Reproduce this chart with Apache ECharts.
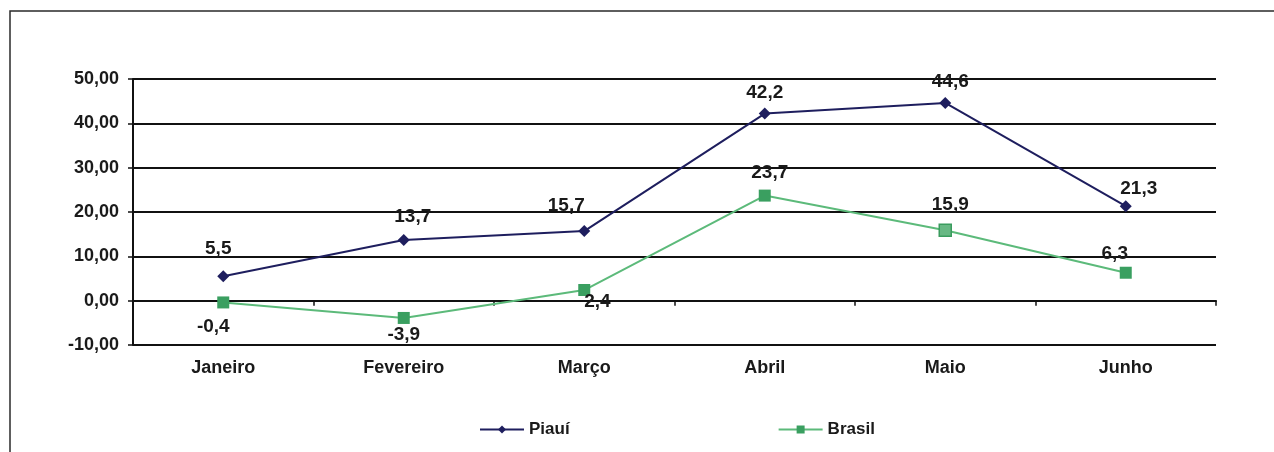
<!DOCTYPE html>
<html>
<head>
<meta charset="utf-8">
<script src="https://cdn.jsdelivr.net/npm/echarts@6/dist/echarts.min.js"></script>
<style>
  html, body { margin: 0; padding: 0; background: #fff; }
  #chart { width: 1274px; height: 452px; }
</style>
</head>
<body>
<div id="chart"></div>
<script>
// Monthly variation (%) – Piauí vs Brasil
const months = ['Janeiro', 'Fevereiro', 'Março', 'Abril', 'Maio', 'Junho'];
const piaui = [5.5, 13.7, 15.7, 42.2, 44.6, 21.3];
const brasil = [-0.4, -3.9, 2.4, 23.7, 15.9, 6.3];
const yTicks = { min: -10, max: 50, step: 10 };

const FONT = '"Liberation Sans", Arial, sans-serif';
const TEXT = '#1a1a1a';
const comma = (v, d) => v.toFixed(d).replace('.', ',');

// label placement per point
const piauiLabel = [
  { position: 'top', offset: [-5, -2] },
  { position: 'top', offset: [9, 2] },
  { position: 'top', offset: [-18, 0] },
  { position: 'top', offset: [0, 5] },
  { position: 'top', offset: [5, 4] },
  { position: 'top', offset: [13, 8] }
];
const brasilLabel = [
  { position: 'bottom', offset: [-10, -1] },
  { position: 'bottom', offset: [0, -9] },
  { position: 'right', offset: [-16, 12] },
  { position: 'top', offset: [5, 3] },
  { position: 'top', offset: [5, 1] },
  { position: 'top', offset: [-11, 7] }
];

const labelBase = {
  show: true,
  fontFamily: FONT,
  fontWeight: 'bold',
  fontSize: 19,
  color: TEXT,
  distance: 10
};

const chart = echarts.init(document.getElementById('chart'), null, { renderer: 'canvas' });

chart.setOption({
  backgroundColor: '#fff',
  animation: false,
  graphic: [{
    type: 'rect',
    shape: { x: 10, y: 11, width: 1400, height: 600 },
    style: { fill: 'none', stroke: '#2a2a2a', lineWidth: 1.5 },
    silent: true,
    z: -1
  }],
  grid: { left: 133, right: 58, top: 79, bottom: 107 },
  legend: {
    left: 474,
    top: 416,
    itemWidth: 44,
    itemHeight: 10,
    itemGap: 208,
    textStyle: { fontFamily: FONT, fontWeight: 'bold', fontSize: 17, color: TEXT },
    data: ['Piauí', 'Brasil']
  },
  xAxis: {
    type: 'category',
    data: months,
    boundaryGap: true,
    axisLine: { onZero: true, lineStyle: { color: '#111', width: 2 } },
    axisTick: { show: true, length: 5, alignWithLabel: false, lineStyle: { color: '#111', width: 1.5 } },
    axisLabel: { margin: 14, fontFamily: FONT, fontWeight: 'bold', fontSize: 18, color: TEXT }
  },
  yAxis: {
    type: 'value',
    min: yTicks.min,
    max: yTicks.max,
    interval: yTicks.step,
    axisLine: { show: true, lineStyle: { color: '#111', width: 2 } },
    axisTick: { show: true, length: 5, lineStyle: { color: '#111', width: 1.5 } },
    axisLabel: {
      margin: 14,
      fontFamily: FONT, fontWeight: 'bold', fontSize: 18, color: TEXT,
      formatter: v => comma(v, 2)
    },
    splitLine: { show: true, lineStyle: { color: '#111', width: 2 } }
  },
  series: [
    {
      name: 'Piauí',
      type: 'line',
      data: piaui.map((v, i) => ({ value: v, label: piauiLabel[i] })),
      symbol: 'diamond',
      symbolSize: 12,
      color: '#1e1e5e',
      lineStyle: { color: '#1e1e5e', width: 2 },
      itemStyle: { color: '#1e1e5e' },
      label: Object.assign({}, labelBase, { formatter: p => comma(p.value, 1) }),
      z: 3
    },
    {
      name: 'Brasil',
      type: 'line',
      data: brasil.map((v, i) => ({
        value: v,
        label: brasilLabel[i],
        itemStyle: i === 4 ? { color: '#68b884', borderColor: '#3a9c5e', borderWidth: 1.5 } : undefined
      })),
      symbol: 'rect',
      symbolSize: 12,
      color: '#3a9f60',
      lineStyle: { color: '#5cba7a', width: 2 },
      itemStyle: { color: '#3a9f60' },
      label: Object.assign({}, labelBase, { formatter: p => comma(p.value, 1) }),
      z: 2
    }
  ]
});
</script>
</body>
</html>
